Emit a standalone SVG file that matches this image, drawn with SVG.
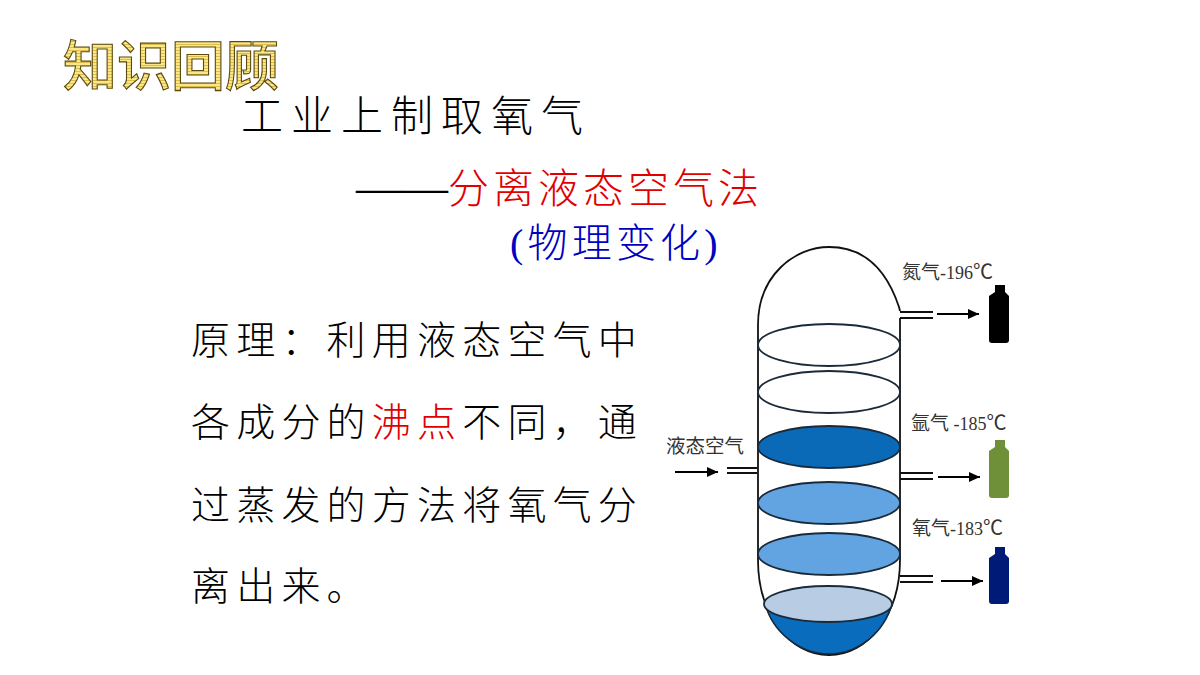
<svg xmlns="http://www.w3.org/2000/svg" width="1200" height="675" viewBox="0 0 1200 675">
<defs>
<pattern id="stripes" width="4" height="3" patternUnits="userSpaceOnUse"><rect width="4" height="3" fill="#f8e88a"/><rect y="2" width="4" height="1" fill="#e0bc48"/></pattern>
<marker id="arr" markerUnits="userSpaceOnUse" markerWidth="12" markerHeight="10" refX="11" refY="5" orient="auto"><path d="M0 0L11 5L0 10z" fill="#000"/></marker>
</defs>
<style>
text{font-family:"Liberation Serif","Noto Sans CJK SC",serif}
.m{font-size:39px;letter-spacing:6.2px;fill:#000;font-weight:300}
.h{font-size:42px;font-weight:300}
.lab{font-size:19px;fill:#333}
.c{font-family:"Noto Sans CJK SC",sans-serif}
.col{fill:none;stroke:#111;stroke-width:1.8}
.e{stroke:#1a2a3a;stroke-width:1.8}
.p{fill:none;stroke:#111;stroke-width:1.8}
.a{stroke:#000;stroke-width:1.8;fill:none;marker-end:url(#arr)}
</style>
<rect width="1200" height="675" fill="#fff"/>
<g id="title"><text x="63" y="86" font-size="54" font-weight="500" fill="url(#stripes)" stroke="#5c4a10" stroke-width="1.1">知识回顾</text></g>
<g id="heading">
<text class="h" x="241" y="131" fill="#000" style="letter-spacing:8px">工业上制取氧气</text>
<text class="h" x="356" y="203" fill="#000" style="font-size:46px;letter-spacing:0">——<tspan fill="#e00000" style="font-size:41px;letter-spacing:4px">分离液态空气法</tspan></text>
<text class="h" x="510" y="257" fill="#0000c0" style="font-size:40px;letter-spacing:4.2px">(物理变化)</text>
</g>
<g id="body">
<text class="m" x="191" y="354">原理：利用液态空气中</text>
<text class="m" x="191" y="436">各成分的<tspan fill="#e00000">沸点</tspan>不同，通</text>
<text class="m" x="191" y="519">过蒸发的方法将氧气分</text>
<text class="m" x="191" y="600">离出来。</text>
</g>
<g id="column">
<path class="col" d="M758 560V325C758 275 795 247 829 247C860 247 885 265 899 307L900 311M900 318V560"/>
<path class="col" d="M758 560C758 615 790 655 829 655C868 655 900 615 900 560"/>
<path d="M765 603C772 632 800 654 829 654C858 654 885 632 892 603C880 628 780 628 765 603z" fill="#0a6cbc" stroke="#1a2a3a" stroke-width="1.5"/>
<ellipse id="tray1" class="e" cx="829" cy="345" rx="71" ry="21" fill="#fff"/>
<ellipse id="tray2" class="e" cx="829" cy="392" rx="71" ry="21" fill="#fff"/>
<ellipse id="tray3" class="e" cx="829" cy="447" rx="71" ry="21" fill="#0a6ab8"/>
<ellipse id="tray4" class="e" cx="829" cy="503" rx="71" ry="21" fill="#62a4e2"/>
<ellipse id="tray5" class="e" cx="829" cy="554" rx="71" ry="21" fill="#62a4e2"/>
<ellipse id="tray6" class="e" cx="828" cy="604" rx="64" ry="18" fill="#b8cde4"/>
</g>
<g id="connectors">
<path class="p" d="M727 468H757M727 473H757M900 312H933M900 318H933M900 473H933M900 479H933M900 576H933M900 582H933"/>
<path class="a" d="M675 472H718"/>
<path class="a" d="M937 314H979"/>
<path class="a" d="M938 477H980"/>
<path class="a" d="M941 581H983"/>
</g>
<g id="bottle-n"><path d="M995 285H1005V292L1009 296V340Q1009 343 1006 343H992Q989 343 989 340V296L995 292z" fill="#000"/></g>
<g id="bottle-ar"><path d="M995 440H1005V447L1009 451V495Q1009 498 1006 498H992Q989 498 989 495V451L995 447z" fill="#6f8f38"/></g>
<g id="bottle-o"><path d="M995 547H1005V554L1009 558V601Q1009 604 1006 604H992Q989 604 989 601V558L995 554z" fill="#001a78"/></g>
<g id="labels">
<text class="lab" x="902" y="279">氮气<tspan font-size="18">-196</tspan><tspan class="c" font-size="20">℃</tspan></text>
<text class="lab" x="911" y="430">氩气<tspan font-size="18"> -185</tspan><tspan class="c" font-size="20">℃</tspan></text>
<text class="lab" x="912" y="535">氧气<tspan font-size="18">-183</tspan><tspan class="c" font-size="20">℃</tspan></text>
<text class="lab" x="666" y="453" style="font-size:19.5px">液态空气</text>
</g>
</svg>
